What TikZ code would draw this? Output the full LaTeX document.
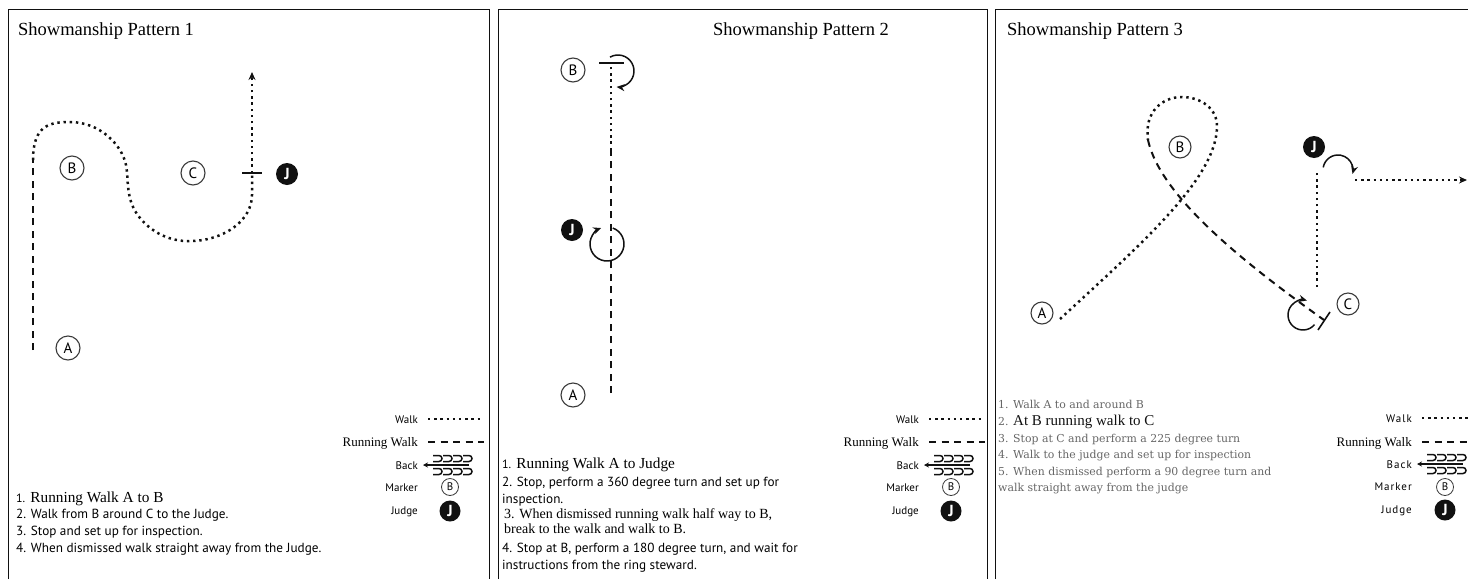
\documentclass[tikz,border=0pt]{standalone}
\usepackage{fontspec}
\setmainfont{Liberation Serif}
\setsansfont{PT Sans}
\newfontfamily\centuryfont{DejaVu Serif}
\usetikzlibrary{positioning,arrows.meta,calc}
\definecolor{ink}{HTML}{111111}
\definecolor{softgray}{HTML}{666666}
\definecolor{rimgray}{HTML}{3A3A3A}
\tikzset{
  frame/.style={draw=ink, line width=1pt},
  walk/.style={draw=ink, line width=2.5pt, dash pattern=on 2.4pt off 3.8pt},
  runwalk/.style={draw=ink, line width=2pt, dash pattern=on 7pt off 5.5pt},
  turn/.style={draw=ink, line width=1.5pt, -{Stealth[length=8pt,width=7pt]}},
  tick/.style={draw=ink, line width=1.6pt},
  exitarrow/.style={-{Stealth[length=8pt,width=7pt]}},
  marker/.style={circle, draw=rimgray, line width=1.1pt, minimum size=24pt, inner sep=0pt,
                 font=\sffamily\fontsize{15}{15}\selectfont},
  judge/.style={circle, fill=ink, text=white, minimum size=22pt, inner sep=0pt,
                font=\sffamily\bfseries\fontsize{16}{16}\selectfont},
  title/.style={anchor=base west, inner sep=0pt, font=\fontsize{18.5}{18.5}\selectfont},
  stepsans/.style={anchor=base west, inner sep=0pt, font=\sffamily\fontsize{13.2}{13.2}\selectfont},
  stepserif/.style={anchor=base west, inner sep=0pt, font=\fontsize{15.3}{15.3}\selectfont},
  stepgray/.style={anchor=base west, inner sep=0pt, text=softgray, font=\centuryfont\fontsize{10.9}{10.9}\selectfont},
  legsans/.style={anchor=base east, inner sep=0pt, font=\sffamily\fontsize{11}{11}\selectfont},
  legspaced/.style={legsans, font=\sffamily\fontsize{11}{11}\selectfont\addfontfeature{LetterSpace=9}},
  legserif/.style={anchor=base east, inner sep=0pt, font=\fontsize{13}{13}\selectfont},
  legmarker/.style={marker, minimum size=17pt, line width=0.8pt, font=\sffamily\fontsize{11}{11}\selectfont},
  legjudge/.style={judge, minimum size=21pt},
  backsign/.pic={
    \draw[ink, line width=1.1pt, {Stealth[length=5pt,width=5pt]}-] (0,0) -- (46,0);
    \foreach \k in {0,...,3} {
      \draw[ink, line width=1.5pt] (10+10*\k,-9.5) -- ++(6,0) arc[start angle=90, end angle=-90, radius=3pt] -- ++(-6,0);
      \draw[ink, line width=1.5pt] (10+10*\k,3.5) -- ++(6,0) arc[start angle=90, end angle=-90, radius=3pt] -- ++(-6,0);
    }
  }
}

\begin{document}
\begin{tikzpicture}[x=1pt, y=-1pt]
\useasboundingbox (0,0) rectangle (1468,579);

% panel frames
\draw[frame] (8,579) |- (489,9) -- (489,579);
\draw[frame] (498,579) |- (987,9) -- (987,579);
\draw[frame] (995,579) |- (1468,9);

% ---------- pattern 1
\node[title] (title1) at (18,35) {Showmanship Pattern 1};
\node[marker] (a1) at (68,348) {A};
\node[marker] (b1) at (72,168) {B};
\node[marker] (c1) at (193,173) {C};
\node[judge] (j1) at (287,174) {J};
\coordinate (start1) at (33,350);
\coordinate (bend1) at (33,160);
\coordinate (stop1) at (252,173);
\coordinate (exit1) at (252,72);
\draw[runwalk] (start1) -- (bend1);
\draw[walk] (bend1) .. controls (33,125) and (50,122) .. (70,122)
  .. controls (100,122) and (122,145) .. (126,165)
  .. controls (129,180) and (125,200) .. (140,218)
  .. controls (155,236) and (175,242) .. (192,241)
  .. controls (225,240) and (252,220) .. (252,195) -- (stop1);
\draw[walk, exitarrow] (stop1) -- (exit1);
\draw[tick] ([xshift=-10pt]stop1) -- ([xshift=10pt]stop1);

\node[stepserif] (s11) at (16,502) {{\sffamily\fontsize{12}{12}\selectfont 1.} Running Walk A to B};
\node[stepsans] (s12) at (16,518) {2. Walk from B around C to the Judge.};
\node[stepsans] (s13) at (16,535) {3. Stop and set up for inspection.};
\node[stepsans] (s14) at (16,552) {4. When dismissed walk straight away from the Judge.};

\node[legsans] (lw1) at (418,423) {Walk};
\node[legserif] (lr1) at (418,446) {Running Walk};
\node[legsans] (lb1) at (418,469) {Back};
\node[legsans] (lm1) at (418,491) {Marker};
\node[legsans] (lj1) at (418,514) {Judge};
\draw[walk] ($(lw1.base east)+(10,-4)$) -- ++(55,0);
\draw[runwalk] ($(lr1.base east)+(10,-4)$) -- ++(56,0);
\pic at ($(lb1.base east)+(5,-4)$) {backsign};
\node[legmarker] (mk1) at (450,487) {B};
\node[legjudge] (jk1) at (450,511) {J};

% ---------- pattern 2
\node[title] (title2) at (713,35) {Showmanship Pattern 2};
\node[marker] (b2) at (573,70) {B};
\node[judge] (j2) at (572,230) {J};
\node[marker] (a2) at (573,395) {A};
\coordinate (start2) at (611,393);
\coordinate (half2) at (611,150);
\coordinate (stop2) at (611,63);
\draw[runwalk] (start2) -- (half2);
\draw[walk] (half2) -- (stop2);
\draw[tick] ([xshift=-12pt]stop2) -- ([xshift=13pt]stop2);
\draw[turn] (618,71) ++(120:16pt) arc[start angle=120, end angle=-95, radius=16pt];
\draw[turn] (607,244) ++(70:17pt) arc[start angle=70, end angle=-250, radius=17pt];

\node[stepserif] (s21) at (502,468) {{\sffamily\fontsize{12}{12}\selectfont 1.} Running Walk A to Judge};
\node[stepsans] (s22) at (502,486) {2. Stop, perform a 360 degree turn and set up for};
\node[stepsans] (s22b) at (502,503) {inspection.};
\node[stepserif, font=\fontsize{14}{14}\selectfont] (s23) at (504,518) {3. When dismissed running walk half way to B,};
\node[stepserif, font=\fontsize{14}{14}\selectfont] (s23b) at (504,533) {break to the walk and walk to B.};
\node[stepsans] (s24) at (502,552) {4. Stop at B, perform a 180 degree turn, and wait for};
\node[stepsans] (s24b) at (502,569) {instructions from the ring steward.};

\node[legsans] (lw2) at (919,423) {Walk};
\node[legserif] (lr2) at (919,446) {Running Walk};
\node[legsans] (lb2) at (919,469) {Back};
\node[legsans] (lm2) at (919,491) {Marker};
\node[legsans] (lj2) at (919,514) {Judge};
\draw[walk] ($(lw2.base east)+(10,-4)$) -- ++(55,0);
\draw[runwalk] ($(lr2.base east)+(10,-4)$) -- ++(56,0);
\pic at ($(lb2.base east)+(5,-4)$) {backsign};
\node[legmarker] (mk2) at (951,487) {B};
\node[legjudge] (jk2) at (951,511) {J};

% ---------- pattern 3
\node[title] (title3) at (1007,35) {Showmanship Pattern 3};
\node[marker, minimum size=22pt] (a3) at (1042,313) {A};
\node[marker, minimum size=22pt] (b3) at (1180,147) {B};
\node[marker, minimum size=22pt] (c3) at (1348,304) {C};
\node[judge] (j3) at (1314,147) {J};
\coordinate (start3) at (1060,319);
\coordinate (loop3) at (1148,140);
\coordinate (stop3) at (1324,320);
\coordinate (judgepos3) at (1317,287);
\coordinate (corner3) at (1317,172);
\coordinate (away3) at (1355,180);
\coordinate (exit3) at (1467,180);
\draw[walk] (start3) .. controls (1140,245) and (1215,180) .. (1217,128)
  .. controls (1218,108) and (1200,97) .. (1182,97)
  .. controls (1162,97) and (1144,112) .. (loop3);
\draw[runwalk] (loop3) .. controls (1160,195) and (1240,260) .. (stop3);
\draw[tick] (1318,330) -- (1330,312);
\draw[turn] (1303,315) ++(-40:15pt) arc[start angle=-40, end angle=-285, radius=15pt];
\draw[walk] (judgepos3) -- (corner3);
\draw[turn] (1338,170) ++(170:15pt) arc[start angle=170, end angle=-15, radius=15pt];
\draw[walk, exitarrow] (away3) -- (exit3);

\node[stepgray] (s31) at (998,408) {1. Walk A to and around B};
\node[stepgray] (s32) at (998,425) {2. {\color{ink}\normalfont\fontsize{15}{15}\selectfont At B running walk to C}};
\node[stepgray] (s33) at (998,442) {3. Stop at C and perform a 225 degree turn};
\node[stepgray] (s34) at (998,458) {4. Walk to the judge and set up for inspection};
\node[stepgray] (s35) at (998,475) {5. When dismissed perform a 90 degree turn and};
\node[stepgray] (s35b) at (998,491) {walk straight away from the judge};

\node[legspaced] (lw3) at (1412,422) {Walk};
\node[legserif] (lr3) at (1412,446) {Running Walk};
\node[legspaced] (lb3) at (1412,468) {Back};
\node[legspaced] (lm3) at (1412,490) {Marker};
\node[legspaced] (lj3) at (1412,513) {Judge};
\draw[walk] ($(lw3.base east)+(10,-4)$) -- ++(50,0);
\draw[runwalk] ($(lr3.base east)+(10,-4)$) -- ++(50,0);
\pic at ($(lb3.base east)+(5,-4)$) {backsign};
\node[legmarker] (mk3) at (1445,487) {B};
\node[legjudge] (jk3) at (1445,510) {J};
\end{tikzpicture}
\end{document}
